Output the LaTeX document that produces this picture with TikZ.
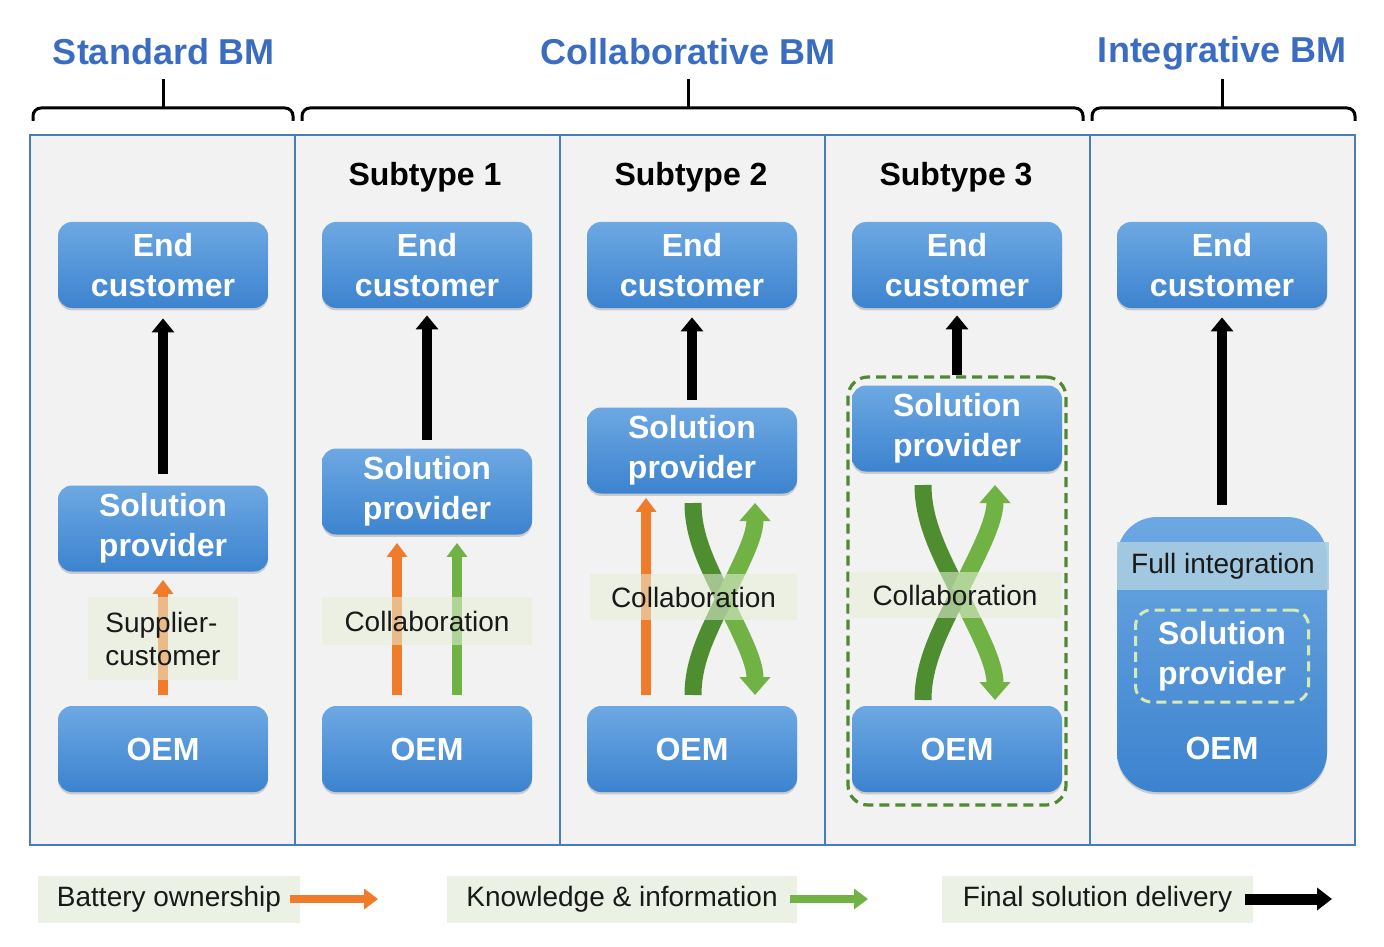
\documentclass[tikz,border=0pt]{standalone}
\usepackage{fontspec}
\setmainfont{Liberation Sans}
\usetikzlibrary{arrows.meta,shadows,calc}
\definecolor{boxtop}{HTML}{6DA8E2}
\definecolor{boxbot}{HTML}{3C83CF}
\definecolor{panelbg}{HTML}{F2F2F2}
\definecolor{panelline}{HTML}{4A7DB8}
\definecolor{hdrblue}{HTML}{3A6DC2}
\definecolor{orng}{HTML}{F07B2B}
\definecolor{lgreen}{HTML}{70B244}
\definecolor{dgreen}{HTML}{4E8D30}
\definecolor{lblfill}{HTML}{E6F0D8}
\definecolor{legfill}{HTML}{EBF1E4}
\definecolor{bandcol}{HTML}{A9CDE2}
\definecolor{dashgrn}{HTML}{4F8A32}
\definecolor{dashlt}{HTML}{D6EAB4}
\begin{document}
\begin{tikzpicture}[x=0.5pt,y=-0.5pt,
  box/.style={rounded corners=7pt, top color=boxtop, bottom color=boxbot, draw=none,
    minimum width=105pt, minimum height=43pt, inner sep=0pt, text=white,
    font=\fontsize{16}{20}\selectfont\bfseries, align=center,
    drop shadow={opacity=0.35, shadow xshift=0pt, shadow yshift=-1.2pt}},
  hdr/.style={font=\fontsize{18}{22}\selectfont\bfseries, text=hdrblue},
  sub/.style={font=\fontsize{16}{20}\selectfont\bfseries, text=black},
  lbl/.style={fill=lblfill, fill opacity=0.55, text opacity=1, text=black!90,
    font=\fontsize{14}{17}\selectfont, inner sep=0pt},
  leg/.style={fill=legfill, text=black!90, font=\fontsize{14}{17}\selectfont, inner sep=0pt,
    minimum height=23.5pt},
  brk/.style={line width=1.5pt, rounded corners=4pt},
  blk/.style={line width=5pt, black, -{Triangle[width=11pt,length=7pt]}},
  org/.style={line width=5pt, orng, -{Triangle[width=10pt,length=7pt]}},
  grn/.style={line width=5pt, lgreen, -{Triangle[width=10pt,length=7pt]}},
  gdark/.style={line width=8.5pt, dgreen},
  glight/.style={line width=8.5pt, lgreen, -{Triangle[width=15pt,length=9pt]}},
  orgleg/.style={line width=4pt, orng, -{Triangle[width=10pt,length=7pt]}},
  grnleg/.style={line width=4pt, lgreen, -{Triangle[width=10pt,length=7pt]}},
  blkleg/.style={line width=5.5pt, black, -{Triangle[width=11pt,length=7.5pt]}}
]
\useasboundingbox (0,0) rectangle (1384,946);

% panels
\foreach \xa/\xb in {30/295,295/560,560/825,825/1090,1090/1355}{
  \filldraw[fill=panelbg, draw=panelline, line width=1.2pt] (\xa,135) rectangle (\xb,845);
}

% brackets
\draw[brk] (33,121) -- (33,108) -- (293,108) -- (293,121);
\draw[line width=1.5pt] (163,108) -- (163,79);
\draw[brk] (302,121) -- (302,108) -- (1083,108) -- (1083,121);
\draw[line width=1.5pt] (688,108) -- (688,79);
\draw[brk] (1092,121) -- (1092,108) -- (1355,108) -- (1355,121);
\draw[line width=1.5pt] (1222,108) -- (1222,79);

% headers
\node[hdr] (h1) at (164,52) {Standard BM};
\node[hdr] (h2) at (688,52) {Collaborative BM};
\node[hdr] (h3) at (1222,53) {Integrative BM};

\node[sub] (s1) at (425,177) {Subtype 1};
\node[sub] (s2) at (691,177) {Subtype 2};
\node[sub] (s3) at (956,177) {Subtype 3};

% column 4 dashed group
\node[draw=dashgrn, dashed, dash pattern=on 5pt off 3pt, line width=1.6pt, rounded corners=10pt,
  minimum width=109pt, minimum height=214pt] (grp4) at (957,591) {};

% boxes
\node[box] (ec1) at (163,265) {End\\customer};
\node[box] (ec2) at (427,265) {End\\customer};
\node[box] (ec3) at (692,265) {End\\customer};
\node[box] (ec4) at (957,265) {End\\customer};
\node[box] (ec5) at (1222,265) {End\\customer};

\node[box] (sp1) at (163,528.5) {Solution\\provider};
\node[box] (sp2) at (427,491.5) {Solution\\provider};
\node[box] (sp3) at (692,450.5) {Solution\\provider};
\node[box] (sp4) at (957,428.5) {Solution\\provider};

\node[box] (oem1) at (163,749) {OEM};
\node[box] (oem2) at (427,749) {OEM};
\node[box] (oem3) at (692,749) {OEM};
\node[box] (oem4) at (957,749) {OEM};

% column 5 integrated box
\node[box, rounded corners=20pt, minimum height=137.5pt] (int5) at (1222,654.5) {};
\node[fill=bandcol, fill opacity=0.9, text opacity=1, text=black!90, font=\fontsize{14}{17}\selectfont,
  minimum width=106pt, minimum height=24pt, inner sep=0pt] (band5) at (1223,566) {Full integration};
\node[draw=dashlt, dashed, dash pattern=on 5pt off 3pt, line width=1.5pt, rounded corners=8pt,
  minimum width=86.5pt, minimum height=46pt, inner sep=0pt, text=white,
  font=\fontsize{16}{20}\selectfont\bfseries, align=center] (sp5) at (1222,656) {Solution\\provider};
\node[text=white, font=\fontsize{16}{20}\selectfont\bfseries] (oem5) at (1222,748) {OEM};

% black delivery arrows
\draw[blk, shorten <=5.5pt, shorten >=5pt] (sp1) -- (ec1);
\draw[blk, shorten <=4pt, shorten >=3.5pt] (sp2) -- (ec2);
\draw[blk, shorten <=3.5pt, shorten >=4.5pt] (sp3) -- (ec3);
\draw[blk, shorten >=3.5pt] (grp4) -- (ec4);
\draw[blk, shorten <=6pt, shorten >=4.5pt] (int5) -- (ec5);

% orange / green straight arrows
\draw[org, shorten <=5.5pt, shorten >=4pt] (oem1.north) -- (sp1.south);
\draw[org, shorten <=5.5pt, shorten >=4pt] ([xshift=-15pt]oem2.north) -- ([xshift=-15pt]sp2.south);
\draw[grn, shorten <=5.5pt, shorten >=4pt] ([xshift=15pt]oem2.north) -- ([xshift=15pt]sp2.south);
\draw[org, shorten <=5.5pt, shorten >=2pt] ([xshift=-23pt]oem3.north) -- ([xshift=-23pt]sp3.south);

% column 3 crossing arrows
\coordinate (x3) at (724,599);
\draw[gdark] (693,503) .. controls (693,538) and (708.5,566) .. (x3);
\draw[glight] (x3) .. controls (739.5,632) and (755,660) .. (755,695);
\draw[gdark] (693,695) .. controls (693,660) and (708.5,632) .. (x3);
\draw[glight] (x3) .. controls (739.5,566) and (755,538) .. (755,503);

% column 4 crossing arrows
\coordinate (x4) at (959,592.5);
\draw[gdark] (923,485) .. controls (923,523) and (941,555.5) .. (x4);
\draw[glight] (x4) .. controls (977,629.5) and (995,662) .. (995,700);
\draw[gdark] (923,700) .. controls (923,662) and (941,629.5) .. (x4);
\draw[glight] (x4) .. controls (977,555.5) and (995,523) .. (995,485);

% labels
\node[lbl, minimum width=75pt, minimum height=41.5pt, align=left] (lab1) at (163,638.5)
  {Supplier-\\[-0.5pt]customer};
\node[lbl, minimum width=105pt, minimum height=24pt] (lab2) at (427,621) {Collaboration};
\node[lbl, minimum width=103.5pt, minimum height=23pt] (lab3) at (693.5,597) {Collaboration};
\node[lbl, minimum width=106pt, minimum height=23pt] (lab4) at (955,595) {Collaboration};

% legend
\node[leg, minimum width=131pt] (leg1) at (169,899) {Battery ownership};
\coordinate (leg1e) at (378,899);
\draw[orgleg] ([xshift=-5pt]leg1.east) -- (leg1e);
\node[leg, minimum width=175pt] (leg2) at (622,899) {Knowledge \& information};
\coordinate (leg2e) at (868,899);
\draw[grnleg] ([xshift=-3.5pt]leg2.east) -- (leg2e);
\node[leg, minimum width=155.5pt] (leg3) at (1097.5,899) {Final solution delivery};
\coordinate (leg3e) at (1332,899);
\draw[blkleg] ([xshift=-4pt]leg3.east) -- (leg3e);
\end{tikzpicture}
\end{document}
